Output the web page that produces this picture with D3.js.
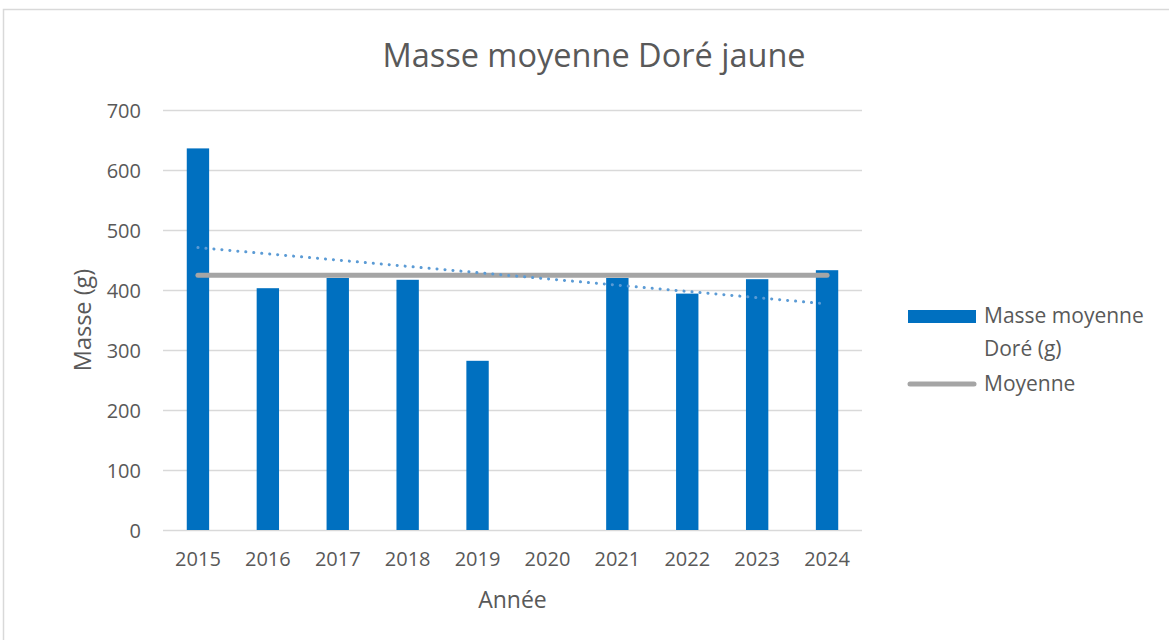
<!DOCTYPE html>
<html>
<head>
    <meta charset=utf-8>
    <title>Masse moyenne Doré jaune</title>
    <style>
        body { margin: 0; background: white; }
        svg { font-family: "Open Sans", sans-serif; }
        .tick text { fill: #595959; font-size: 20px; font-family: "Open Sans", sans-serif; }
    </style>
</head>
<body>
<svg id=chart width=1169 height=640></svg>
<script src="https://cdn.jsdelivr.net/npm/d3@7"></script>
<script>
    // data (2020 has no value)
    var years = ['2015', '2016', '2017', '2018', '2019', '2020', '2021', '2022', '2023', '2024'];
    var masses = [636, 403, 420, 417, 282, null, 420, 394, 418, 433];
    var yTicks = [0, 100, 200, 300, 400, 500, 600, 700];

    var margin = {top: 110, left: 163, right: 307, bottom: 110};
    var svg = d3.select('#chart');
    var width = 1169 - margin.left - margin.right;
    var height = 640 - margin.top - margin.bottom;

    //chart frame
    svg.append('rect')
        .attr('x', 3.5).attr('y', 9.5)
        .attr('width', 1200).attr('height', 700)
        .attr('fill', 'white')
        .attr('stroke', '#d9d9d9')
        .attr('stroke-width', 1.5);

    var g = svg.append('g')
        .attr('transform', 'translate(' + margin.left + ',' + margin.top + ')');

    var x = d3.scaleBand().domain(years).range([0, width]);
    var y = d3.scaleLinear().domain([0, 700]).range([height, 0]);
    var barW = x.bandwidth() * 0.32;

    //gridlines + y axis
    var yAxis = g.append('g')
        .call(d3.axisLeft(y).tickValues(yTicks).tickSize(0).tickPadding(22))
        .attr('font-family', null).attr('font-size', null);
    yAxis.select('.domain').remove();
    yAxis.selectAll('.tick').append('line')
        .attr('x2', width)
        .attr('stroke', '#d9d9d9')
        .attr('stroke-width', 1.5);
    yAxis.selectAll('.tick text').attr('dy', '0.35em');

    var xAxis = g.append('g')
        .attr('transform', 'translate(0,' + height + ')')
        .call(d3.axisBottom(x).tickSize(0).tickPadding(22))
        .attr('font-family', null).attr('font-size', null);
    xAxis.select('.domain').remove();

    //bars
    var data = years.map((d, i) => ({year: d, v: masses[i]})).filter(d => d.v != null);
    g.selectAll('.bar')
        .data(data)
        .enter().append('rect')
        .attr('class', 'bar')
        .attr('x', d => x(d.year) + x.bandwidth() / 2 - barW / 2)
        .attr('y', d => y(d.v))
        .attr('width', barW)
        .attr('height', d => height - y(d.v))
        .attr('fill', '#0070c0');

    //average line
    var mean = d3.mean(data, d => d.v);
    var cx = d => x(d) + x.bandwidth() / 2;
    g.append('line')
        .attr('x1', cx(years[0])).attr('x2', cx(years[years.length - 1]))
        .attr('y1', y(mean)).attr('y2', y(mean))
        .attr('stroke', '#a5a5a5')
        .attr('stroke-width', 5)
        .attr('stroke-linecap', 'round');

    //linear trend (index 1..10, gap skipped)
    var pts = years.map((d, i) => [i + 1, masses[i]]).filter(p => p[1] != null);
    var mx = d3.mean(pts, p => p[0]), my = d3.mean(pts, p => p[1]);
    var slope = d3.sum(pts, p => (p[0] - mx) * (p[1] - my)) / d3.sum(pts, p => (p[0] - mx) * (p[0] - mx));
    var trend = i => my + slope * (i - mx);
    g.append('line')
        .attr('x1', cx(years[0])).attr('y1', y(trend(1)))
        .attr('x2', cx(years[9]) - 6).attr('y2', y(trend(10)))
        .attr('stroke', '#5b9bd5')
        .attr('stroke-width', 3)
        .attr('stroke-linecap', 'round')
        .attr('stroke-dasharray', '0.1 7.9');

    //titles
    svg.append('text')
        .attr('x', 594).attr('y', 67)
        .attr('text-anchor', 'middle')
        .attr('fill', '#595959')
        .attr('font-size', 32.5)
        .text('Masse moyenne Doré jaune');

    svg.append('text')
        .attr('x', margin.left + width / 2).attr('y', 608)
        .attr('text-anchor', 'middle')
        .attr('fill', '#595959')
        .attr('font-size', 23)
        .text('Année');

    svg.append('text')
        .attr('transform', 'translate(91,' + (margin.top + height / 2) + ') rotate(-90)')
        .attr('text-anchor', 'middle')
        .attr('fill', '#595959')
        .attr('font-size', 23.5)
        .text('Masse (g)');

    //legend
    var leg = svg.append('g').attr('fill', '#595959').attr('font-size', 21);
    leg.append('rect')
        .attr('x', 908).attr('y', 310)
        .attr('width', 68).attr('height', 13)
        .attr('fill', '#0070c0');
    leg.append('text').attr('x', 984).attr('y', 323).text('Masse moyenne');
    leg.append('text').attr('x', 984).attr('y', 356).text('Doré (g)');
    leg.append('line')
        .attr('x1', 910).attr('x2', 974)
        .attr('y1', 384).attr('y2', 384)
        .attr('stroke', '#a5a5a5')
        .attr('stroke-width', 5)
        .attr('stroke-linecap', 'round');
    leg.append('text').attr('x', 984).attr('y', 391).text('Moyenne');
</script>
</body>
</html>
